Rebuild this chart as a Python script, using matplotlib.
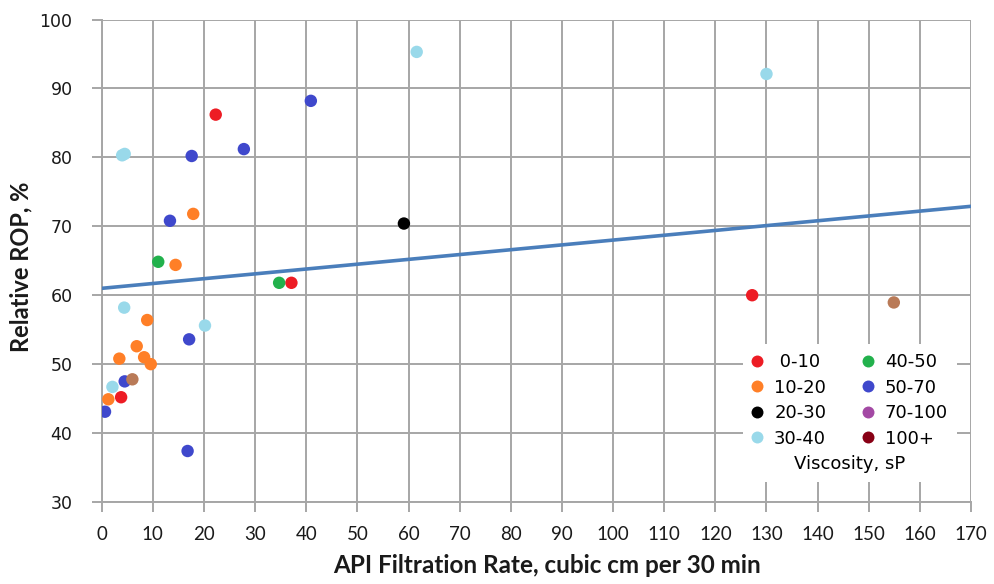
import matplotlib
matplotlib.use("Agg")
import matplotlib.pyplot as plt
from matplotlib.lines import Line2D

# Viscosity groups: (filtration rate, relative ROP)
visc_0_10_x = [22.3, 37.1, 127.2, 3.8]
visc_0_10_y = [86.2, 61.8, 60.0, 45.2]

visc_10_20_x = [17.9, 14.45, 8.9, 6.85, 3.45, 8.3, 9.6, 1.3]
visc_10_20_y = [71.8, 64.4, 56.4, 52.6, 50.8, 51.0, 50.0, 44.9]

visc_20_30_x = [59.1]
visc_20_30_y = [70.4]

visc_30_40_x = [4.0, 4.5, 61.6, 130.0, 4.4, 20.2, 2.1]
visc_30_40_y = [80.3, 80.5, 95.3, 92.1, 58.2, 55.6, 46.7]

visc_40_50_x = [11.06, 34.7]
visc_40_50_y = [64.85, 61.8]

visc_50_70_x = [17.6, 27.8, 40.9, 13.35, 17.1, 4.5, 0.65, 16.8]
visc_50_70_y = [80.2, 81.2, 88.2, 70.8, 53.6, 47.5, 43.1, 37.4]

visc_70_100_x = []
visc_70_100_y = []

visc_100p_x = []
visc_100p_y = []

unclassified_x = [6.0, 154.9]
unclassified_y = [47.8, 58.95]

group_labels = [" 0-10", "10-20", "20-30", "30-40", "40-50", "50-70", "70-100", "100+"]
group_colors = ["#ed1c24", "#ff7f27", "#000000", "#99d9ea",
                "#22b14c", "#3f48cc", "#a349a4", "#880015"]

# Linear trend: ROP = intercept + slope * rate
trend_intercept = 61.0
trend_slope = 0.0700
trend_x = [0, 170]

x_ticks = list(range(0, 171, 10))
y_ticks = list(range(30, 101, 10))

fig = plt.figure(figsize=(9.94, 5.84), dpi=100)
ax = fig.add_axes([0.1023, 0.1404, 0.8746, 0.8262])

groups = [
    (visc_0_10_x, visc_0_10_y),
    (visc_10_20_x, visc_10_20_y),
    (visc_20_30_x, visc_20_30_y),
    (visc_30_40_x, visc_30_40_y),
    (visc_40_50_x, visc_40_50_y),
    (visc_50_70_x, visc_50_70_y),
    (visc_70_100_x, visc_70_100_y),
    (visc_100p_x, visc_100p_y),
]

marker_s = 80
for (gx, gy), col in zip(groups, group_colors):
    if gx:
        ax.scatter(gx, gy, s=marker_s, color=col, edgecolors="none", zorder=3)
ax.scatter(unclassified_x, unclassified_y, s=marker_s, color="#b97a57",
           edgecolors="none", zorder=3)

trend_y = [trend_intercept + trend_slope * v for v in trend_x]
ax.plot(trend_x, trend_y, color="#4a7ebb", linewidth=2.6, zorder=4,
        solid_capstyle="butt")

ax.set_xlim(0, 170)
ax.set_ylim(30, 100)
ax.set_xticks(x_ticks)
ax.set_yticks(y_ticks)

grid_col = "#a6a6a6"
ax.grid(True, color=grid_col, linewidth=1.4, zorder=0)
ax.set_axisbelow(True)
for side in ["top", "right"]:
    ax.spines[side].set_visible(False)
for side in ["left", "bottom"]:
    ax.spines[side].set_color(grid_col)
    ax.spines[side].set_linewidth(1.4)
ax.tick_params(axis="both", direction="out", length=7, width=1.4,
               color=grid_col, labelcolor="#1a1a1a")
ax.tick_params(axis="y", pad=14)
ax.tick_params(axis="x", pad=10)

for lbl in ax.get_yticklabels():
    lbl.set_fontfamily("DejaVu Sans")
    lbl.set_fontsize(12.5)
for lbl in ax.get_xticklabels():
    lbl.set_fontfamily("Lato")
    lbl.set_fontsize(13.5)

ax.set_xlabel("API Filtration Rate, cubic cm per 30 min", fontfamily="Lato",
              fontweight="bold", fontsize=17.5, color="#1a1a1a")
ax.xaxis.set_label_coords(0.512, -0.108)
ax.set_ylabel("Relative ROP, %", fontfamily="Lato",
              fontweight="bold", fontsize=17, color="#1a1a1a")
ax.yaxis.set_label_coords(-0.080, 0.488)

handles = [Line2D([], [], linestyle="none", marker="o", markersize=8.6,
                  markerfacecolor=c, markeredgecolor="none") for c in group_colors]
# column-major ordering gives left column 0-10..30-40, right column 40-50..100+
leg = ax.legend(handles, group_labels, ncol=2, loc="lower right",
                bbox_to_anchor=(0.994, 0.022), frameon=True, fancybox=False,
                facecolor="white", edgecolor="none", framealpha=1.0,
                handlelength=0.6, handletextpad=0.64, columnspacing=2.0,
                labelspacing=0.42, borderpad=0.5,
                prop={"family": "DejaVu Sans", "size": 13},
                title="Viscosity, sP",
                title_fontproperties={"family": "DejaVu Sans", "size": 13})
# place the title underneath the entries
box = leg._legend_box
box._children = box._children[::-1]
leg.set_zorder(5)

fig.savefig("out.png", dpi=100)
